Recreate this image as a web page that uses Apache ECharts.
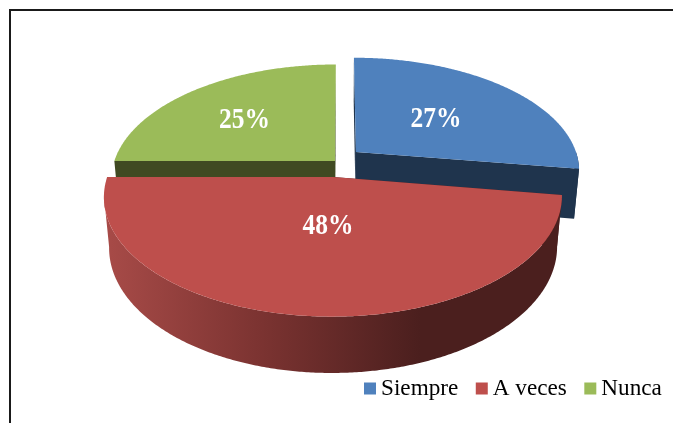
<!DOCTYPE html>
<html>
<head>
<meta charset="utf-8">
<style>
  html, body { margin: 0; padding: 0; background: #fff; }
  #chart { width: 673px; height: 423px; }
</style>
</head>
<body>
<div id="chart"></div>
<script src="https://cdn.jsdelivr.net/npm/echarts@6/dist/echarts.min.js"></script>
<script>
// valores
var categories = ['Siempre', 'A veces', 'Nunca'];
var values = [27.4, 47.6, 25];

var total = values.reduce(function (a, b) { return a + b; }, 0);
var colors = ['#4F81BD', '#BE4F4C', '#9BBB59'];
var wallColors = ['#1F344D', '#4B1F1E', '#404A22'];
// separacion de cada porcion en el plano del pie: u, v, ancho relativo
var explode = [[0.068, -0.142, 1], [-0.0345, 0.08, 0.9915], [-0.027, -0.06, 0.99]];
var labelPos = [[436, 120], [328, 227], [244.5, 121]];

// proyeccion en perspectiva del pie
var vx = 341, vy = 167.8, ra = 225, rb = 114, persp = 0.16;
var depth = 51, depthPersp = 0.0215;
var rimEnd = 261;

function project(u, v, low) {
    var w = 1 - persp * v + (low ? depthPersp : 0);
    return [vx + ra * u / w, vy + (rb * v + (low ? depth : 0)) / w];
}

function rimPoint(i, deg, low) {
    var t = deg * Math.PI / 180;
    return project(explode[i][0] + explode[i][2] * Math.sin(t), explode[i][1] - Math.cos(t), low);
}

function arc(i, from, to, low) {
    var pts = [];
    var n = Math.max(2, Math.ceil(Math.abs(to - from) * 2));
    for (var k = 0; k <= n; k++) {
        pts.push(rimPoint(i, from + (to - from) * k / n, low));
    }
    return pts;
}

function wall(i, deg) {
    var c = explode[i];
    return {
        type: 'polygon',
        shape: { points: [project(c[0], c[1], false), rimPoint(i, deg, false), rimPoint(i, deg, true), project(c[0], c[1], true)] },
        style: { fill: wallColors[i] }
    };
}

function sliceRange(i) {
    var before = 0;
    for (var k = 0; k < i; k++) { before += values[k]; }
    return [before / total * 360, (before + values[i]) / total * 360];
}

function renderSlice(i) {
    return function (params, api) {
        var range = sliceRange(i);
        var start = range[0], end = range[0] + api.value(0) / total * 360;
        var c = explode[i];
        var children = [wall(i, start), wall(i, end)];

        // lateral visible, solo la parte que mira al frente
        var a = Math.max(start, 90), b = Math.min(end, rimEnd);
        if (b > a) {
            var fill = wallColors[i];
            if (i === 1) {
                fill = new echarts.graphic.LinearGradient(104, 0, 420, 0, [
                    { offset: 0, color: '#A84B48' },
                    { offset: 0.5, color: '#7B3331' },
                    { offset: 1, color: '#4B1F1E' }
                ], true);
            }
            children.push({
                type: 'polygon',
                shape: { points: arc(i, a, b, false).concat(arc(i, b, a, true)) },
                style: { fill: fill }
            });
        }

        children.push({
            type: 'polygon',
            shape: { points: [project(c[0], c[1], false)].concat(arc(i, start, end, false)) },
            style: { fill: colors[i] }
        });
        // el original esta un poco estirado en vertical
        children.push({
            type: 'text',
            x: labelPos[i][0],
            y: labelPos[i][1],
            scaleY: 1.12,
            style: {
                x: 0, y: 0,
                text: Math.round(api.value(0)) + '%',
                fill: '#fff',
                font: 'bold 25.5px "Liberation Serif"',
                align: 'center', verticalAlign: 'middle'
            }
        });
        return { type: 'group', children: children };
    };
}

// se dibuja de atras hacia adelante
var order = [2, 0, 1];
var series = order.map(function (i) {
    return {
        type: 'custom',
        name: categories[i],
        coordinateSystem: 'none',
        itemStyle: { color: colors[i] },
        renderItem: renderSlice(i),
        data: [[values[i]]]
    };
});

var myChart = echarts.init(document.getElementById('chart'));
myChart.setOption({
    animation: false,
    backgroundColor: '#fff',
    legend: {
        data: categories,
        left: 364,
        top: 377,
        padding: 0,
        icon: 'rect',
        itemWidth: 12,
        itemHeight: 12,
        itemGap: 17.5,
        selectedMode: false,
        textStyle: { color: '#000', fontFamily: 'Liberation Serif', fontSize: 23.2 }
    },
    graphic: [
        { type: 'line', shape: { x1: 10, y1: 10, x2: 673, y2: 10 }, style: { stroke: '#1a1a1a', lineWidth: 2 } },
        { type: 'line', shape: { x1: 10, y1: 9, x2: 10, y2: 423 }, style: { stroke: '#1a1a1a', lineWidth: 2 } }
    ],
    series: series
});
</script>
</body>
</html>
